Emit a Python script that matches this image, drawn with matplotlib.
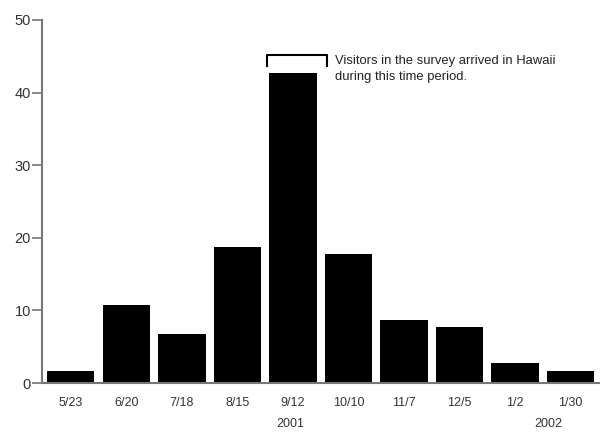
import numpy as np
import matplotlib.pyplot as plt

plt.rcParams['font.family'] = ['Liberation Sans', 'DejaVu Sans']

dates = ["5/23", "6/20", "7/18", "8/15", "9/12", "10/10", "11/7", "12/5", "1/2", "1/30"]
visitors = [1.7, 10.7, 6.7, 18.7, 42.7, 17.7, 8.7, 7.7, 2.7, 1.7]
years = ["2001", "2002"]
year_pos = [3.95, 8.6]
yticks = [0, 10, 20, 30, 40, 50]

fig = plt.figure(figsize=(6, 4.34), dpi=100)
ax = fig.add_axes([0.07, 0.1175, 0.93, 0.8365])

x = np.arange(len(dates))
ax.bar(x, visitors, width=0.85, color='black')

ax.set_xlim(-0.52, 9.53)
ax.set_ylim(0, 50)
ax.set_yticks(yticks)
ax.set_xticks(x)
ax.set_xticklabels(dates, fontsize=9, color='#333333')
ax.tick_params(axis='x', length=0, pad=10)
ax.tick_params(axis='y', length=7, width=1.2, color='#777777', labelsize=10.5,
               labelcolor='#333333', pad=1)

for s in ['top', 'right']:
    ax.spines[s].set_visible(False)
for s in ['left', 'bottom']:
    ax.spines[s].set_color('#777777')
    ax.spines[s].set_linewidth(1.5)

for yr, pos in zip(years, year_pos):
    ax.text(pos, -5.6, yr, ha='center', va='center', fontsize=9, color='#333333')

# bracket over the survey period
ax.plot([3.54, 3.54, 4.62, 4.62], [43.6, 45.2, 45.2, 43.6], color='black', lw=1.5,
        clip_on=False)
ax.text(4.75, 43.2, "Visitors in the survey arrived in Hawaii\nduring this time period.",
        ha='left', va='center', fontsize=9.4, color='#222222', linespacing=1.45)

fig.savefig('out.png', dpi=100)
